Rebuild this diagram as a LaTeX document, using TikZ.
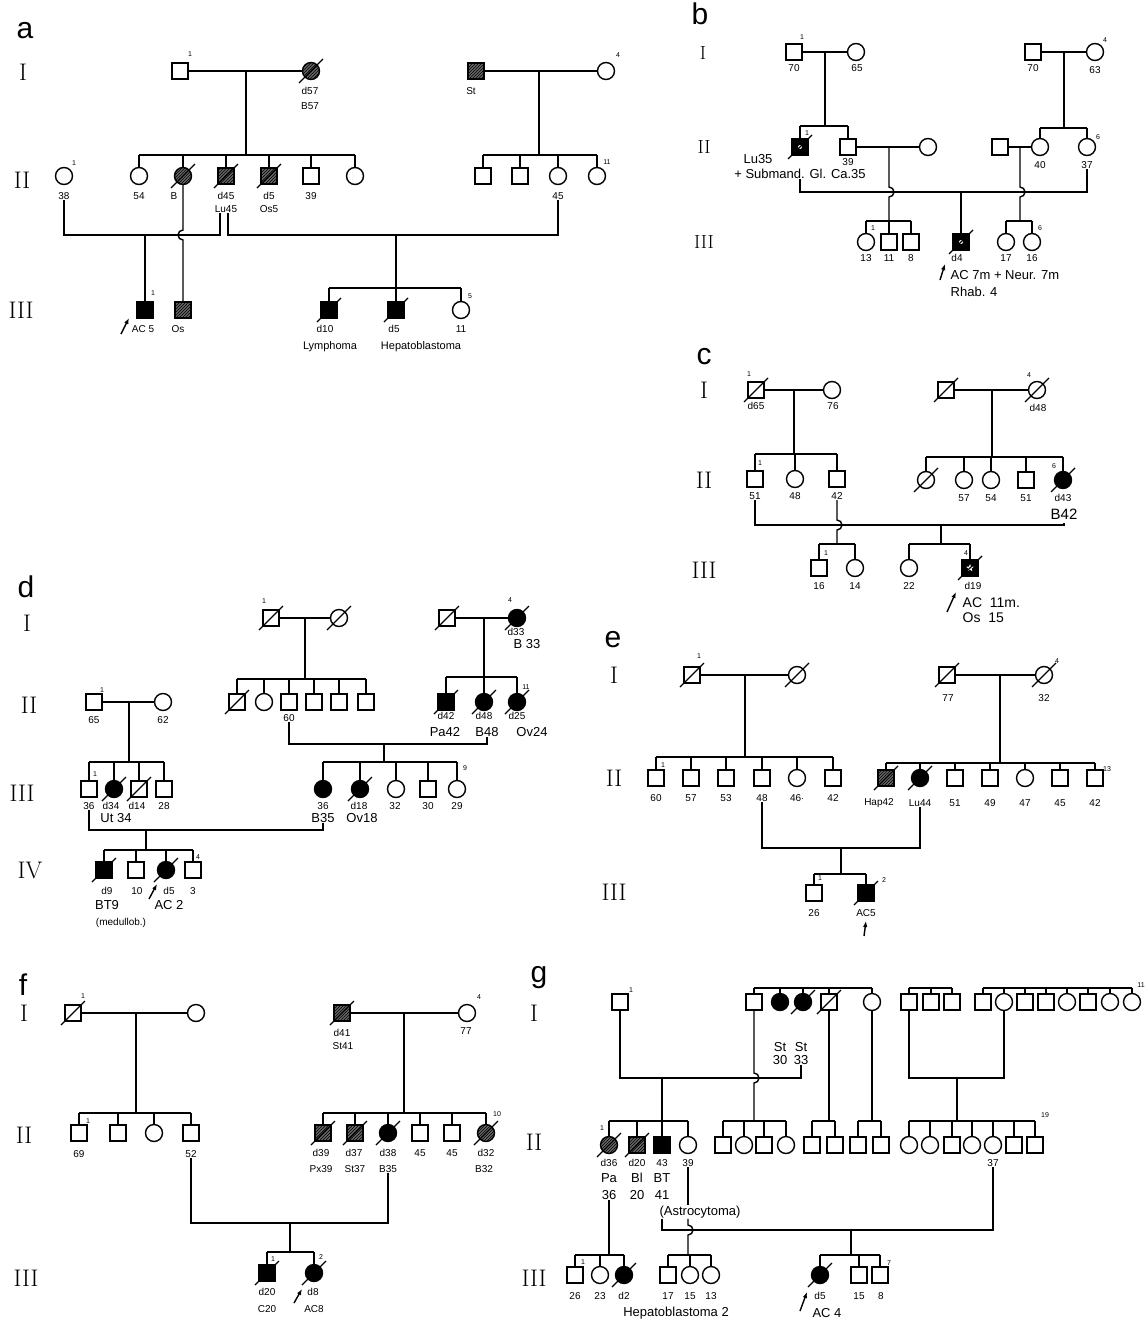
\documentclass[tikz,border=0pt]{standalone}
\usepackage{fontspec}
\setsansfont{Liberation Sans}
\usetikzlibrary{arrows.meta,patterns,shapes.geometric}

\tikzset{
  male/.style={draw, rectangle, minimum size=16pt, inner sep=0pt},
  female/.style={draw, circle, minimum size=17pt, inner sep=0pt},
  aff/.style={fill=black},
  hat/.style={preaction={fill=black!60}, pattern=north east lines, pattern color=black},
  lbl/.style={font=\sffamily\fontsize{10}{10}\selectfont, inner sep=0pt},
  big/.style={font=\sffamily\fontsize{13}{13}\selectfont, inner sep=0pt},
  sup/.style={font=\sffamily\fontsize{7}{7}\selectfont, inner sep=0pt},
  gen/.style={font=\fontsize{24}{24}\selectfont, inner sep=0pt},
  gensm/.style={font=\fontsize{19}{19}\selectfont, inner sep=0pt},
  panel/.style={font=\sffamily\fontsize{30}{30}\selectfont, inner sep=0pt},
  proband/.style={-{Latex[length=6pt,width=4.5pt]}, line width=1.4pt},
  dot/.style={circle, fill=white, inner sep=0pt, minimum size=4pt},
}

% sibship line: y, first, last, all children
\newcommand\sibline[4]{%
  \draw (#2.north |- 0,#1) -- (#3.north |- 0,#1);
  \foreach \ch in {#4}{\draw (\ch.north) -- (\ch.north |- 0,#1);}}
\newcommand\deadmark[1]{\draw[line width=1.1pt] ([shift={(-12,12)}]#1.center) -- ([shift={(12,-12)}]#1.center);}
\newcommand\plab[4][lbl]{\node[#1] (#2) at (#3) {#4};}
\newcommand\psup[3]{\node[sup] (#1) at (#2) {#3};}

\begin{document}
\begin{tikzpicture}[x=1pt, y=-1pt, line width=1.4pt]
\useasboundingbox (0,0) rectangle (1146,1328);

% ---------------- a ----------------
\node[panel] (pa) at (25,31) {a};
\node[gen] (aI) at (23,72) {I};
\node[gen] (aII) at (22,180) {II};
\node[gen] (aIII) at (21,310) {III};
\node[male] (a1) at (180,71) {};
\node[female,hat] (a2) at (311,71) {};
\node[male,hat] (a3) at (476,71) {};
\node[female] (a4) at (606,71) {};
\draw (a1) -- (a2);
\draw (a3) -- (a4);
\coordinate (am1) at (246,71);
\coordinate (am2) at (539,71);
\psup{a1n}{190,54}{1}
\psup{a4n}{618,55}{4}
\plab{ald57}{310,91}{d57}
\plab{alB57}{310,106}{B57}
\plab{alSt}{471,91}{St}
\node[female] (a5) at (64,176) {};
\node[female] (a6) at (139,176) {};
\node[female,hat] (a7) at (183,176) {};
\node[male,hat] (a8) at (226,176) {};
\node[male,hat] (a9) at (269,176) {};
\node[male] (a10) at (311,176) {};
\node[female] (a11) at (355,176) {};
\node[male] (a12) at (483,176) {};
\node[male] (a13) at (520,176) {};
\node[female] (a14) at (558,176) {};
\node[female] (a15) at (597,176) {};
\draw (am1) -- (am1 |- 0,155);
\draw (am2) -- (am2 |- 0,155);
\sibline{155}{a6}{a11}{a6,a7,a8,a9,a10,a11}
\sibline{155}{a12}{a15}{a12,a13,a14,a15}
\psup{a5n}{74,163}{1}
\psup{a15n}{607,162}{11}
\plab{al38}{64,196}{38}
\plab{al54}{139,196}{54}
\plab{alB}{174,196}{B}
\plab{ald45}{226,196}{d45}
\plab{ald5}{269,196}{d5}
\plab{al39}{311,196}{39}
\plab{al45}{558,196}{45}
\plab{alLu45}{226,209}{Lu45}
\plab{alOs5}{269,209}{Os5}
\node[male,aff] (a16) at (145,310) {};
\node[male,hat] (a17) at (183,310) {};
\node[male,aff] (a18) at (329,310) {};
\node[male,aff] (a19) at (396,310) {};
\node[female] (a20) at (461,310) {};
\coordinate (af1) at (220,235);
\coordinate (af2) at (228,235);
\draw (al38.south) |- (af1) -- (af1 |- alLu45.south);
\draw (af2 |- alLu45.south) -- (af2) -| (al45.south);
\coordinate (am3) at (145,235);
\coordinate (am4) at (396,235);
\draw (am3) -- (a16);
\draw (am4) -- (am4 |- 0,288);
\sibline{288}{a18}{a20}{a18,a19,a20}
\draw (a7) -- (183,230) arc[start angle=270, end angle=90, radius=5] -- (a17);
\foreach \n in {a2,a7,a8,a9,a18,a19} {\deadmark{\n}}
\psup{a16n}{153,293}{1}
\psup{a20n}{470,296}{5}
\draw[proband] (121,334) -- (129,318);
\plab{alAC5}{143,329}{AC 5}
\plab{alOs}{178,329}{Os}
\plab{ald10}{325,329}{d10}
\plab{ald5b}{394,329}{d5}
\plab{al11}{461,329}{11}
\plab[font=\sffamily\fontsize{11}{11}\selectfont]{alLym}{330,347}{Lymphoma}
\plab[font=\sffamily\fontsize{11}{11}\selectfont]{alHep}{421,347}{Hepatoblastoma}

% ---------------- b ----------------
\node[panel] (pb) at (700,14) {b};
\node[gensm] (bI) at (703,53) {I};
\node[gensm] (bII) at (704,147) {II};
\node[gensm] (bIII) at (704,242) {III};
\node[male] (b1) at (794,52) {};
\node[female] (b2) at (856,52) {};
\node[male] (b3) at (1033,52) {};
\node[female] (b4) at (1095,52) {};
\draw (b1) -- (b2);
\draw (b3) -- (b4);
\coordinate (bm1) at (825,52);
\coordinate (bm2) at (1064,52);
\psup{b1n}{802,37}{1}
\psup{b4n}{1105,40}{4}
\plab{bl70a}{794,68}{70}
\plab{bl65}{857,68}{65}
\plab{bl70b}{1033,68}{70}
\plab{bl63}{1095,70}{63}
\node[male,aff] (b5) at (800,147) {};
\node[male] (b6) at (848,147) {};
\node[female] (b7) at (928,147) {};
\node[male] (b8) at (1000,147) {};
\node[female] (b9) at (1040,147) {};
\node[female] (b10) at (1087,147) {};
\draw (b6) -- (b7);
\draw (b8) -- (b9);
\coordinate (bm3) at (889,147);
\coordinate (bm4) at (1020,147);
\draw (bm1) -- (bm1 |- 0,126);
\sibline{126}{b5}{b6}{b5,b6}
\draw (bm2) -- (bm2 |- 0,128);
\sibline{128}{b9}{b10}{b9,b10}
\node[dot] (b5d) at (b5) {};
\psup{b5n}{807,133}{1}
\psup{b10n}{1098,137}{6}
\plab[big]{blLu35}{758,159}{Lu35}
\plab[big]{blSub}{800,174}{+ Submand. Gl. Ca.35}
\plab{bl39}{848,162}{39}
\plab{bl40}{1040,165}{40}
\plab{bl37}{1087,165}{37}
\draw (blSub.south -| b5) |- (bl37.south |- 0,192) -- (bl37.south);
\coordinate (bm5) at (961,192);
\draw (bm3) -- (889,187) arc[start angle=-90, end angle=90, radius=5] -- (889,221);
\draw (bm4) -- (1020,187) arc[start angle=-90, end angle=90, radius=5] -- (1020,221);
\node[female] (b11) at (866,242) {};
\node[male] (b12) at (889,242) {};
\node[male] (b13) at (911,242) {};
\node[male,aff] (b14) at (961,242) {};
\node[female] (b15) at (1006,242) {};
\node[female] (b16) at (1032,242) {};
\sibline{221}{b11}{b13}{b11,b12,b13}
\sibline{221}{b15}{b16}{b15,b16}
\draw (bm5) -- (b14);
\node[dot] (b14d) at (b14) {};
\foreach \n in {b5,b14} {\deadmark{\n}}
\psup{b11n}{873,228}{1}
\psup{b16n}{1040,228}{6}
\plab{bl13}{866,258}{13}
\plab{bl11}{889,258}{11}
\plab{bl8}{911,258}{8}
\plab{bld4}{957,258}{d4}
\plab{bl17}{1006,258}{17}
\plab{bl16}{1032,258}{16}
\draw[proband] (940,280) -- (945,264);
\node[big, anchor=west] (blAC) at (950,275) {AC 7m + Neur. 7m};
\node[big, anchor=west] (blRh) at (950,292) {Rhab. 4};

% ---------------- c ----------------
\node[panel] (pc) at (704,357) {c};
\node[gen] (cI) at (704,390) {I};
\node[gen] (cII) at (704,480) {II};
\node[gen] (cIII) at (704,570) {III};
\node[male] (c1) at (756,390) {};
\node[female] (c2) at (832,390) {};
\node[male] (c3) at (946,390) {};
\node[female] (c4) at (1037,390) {};
\draw (c1) -- (c2);
\draw (c3) -- (c4);
\coordinate (cm1) at (794,390);
\coordinate (cm2) at (992,390);
\psup{c1n}{749,374}{1}
\psup{c4n}{1029,375}{4}
\plab{cld65}{756,406}{d65}
\plab{cl76}{833,406}{76}
\plab{cld48}{1038,408}{d48}
\node[male] (c5) at (755,479) {};
\node[female] (c6) at (795,479) {};
\node[male] (c7) at (837,479) {};
\node[female] (c8) at (926,480) {};
\node[female] (c9) at (964,480) {};
\node[female] (c10) at (991,480) {};
\node[male] (c11) at (1026,480) {};
\node[female,aff] (c12) at (1063,480) {};
\draw (cm1) -- (cm1 |- 0,454);
\sibline{454}{c5}{c7}{c5,c6,c7}
\draw (cm2) -- (cm2 |- 0,457);
\sibline{457}{c8}{c12}{c8,c9,c10,c11,c12}
\psup{c5n}{760,463}{1}
\psup{c12n}{1054,466}{6}
\plab{cl51}{755,496}{51}
\plab{cl48}{795,496}{48}
\plab{cl42}{837,496}{42}
\plab{cl57}{964,498}{57}
\plab{cl54}{991,498}{54}
\plab{cl51b}{1026,498}{51}
\plab{cld43}{1063,498}{d43}
\plab[font=\sffamily\fontsize{15}{15}\selectfont]{clB42}{1064,514}{B42}
\draw (cl51.south) |- (clB42.south |- 0,525) -- (clB42.south);
\coordinate (cm3) at (941,525);
\draw (cl42.south) -- (837,520) arc[start angle=-90, end angle=90, radius=5] -- (837,544);
\node[male] (c13) at (819,568) {};
\node[female] (c14) at (855,568) {};
\node[female] (c15) at (909,568) {};
\node[male,aff] (c16) at (970,568) {};
\sibline{544}{c13}{c14}{c13,c14}
\draw (cm3) -- (cm3 |- 0,544);
\sibline{544}{c15}{c16}{c15,c16}
\node[star, star points=5, star point ratio=2.3, fill=white, inner sep=0pt, minimum size=8pt] (c16s) at (c16) {};
\foreach \n in {c1,c3,c4,c8,c12,c16} {\deadmark{\n}}
\psup{c13n}{826,553}{1}
\psup{c16n}{966,553}{4}
\plab{cl16}{819,586}{16}
\plab{cl14}{855,586}{14}
\plab{cl22}{909,586}{22}
\plab{cld19}{973,586}{d19}
\draw[proband] (947,612) -- (956,592);
\node[font=\sffamily\fontsize{14}{14}\selectfont, inner sep=0pt, anchor=west] (clAC) at (962,603) {AC\ \ 11m.};
\node[font=\sffamily\fontsize{14}{14}\selectfont, inner sep=0pt, anchor=west] (clOs) at (962,618) {Os\ \ 15};

% ---------------- d ----------------
\node[panel] (pd) at (26,587) {d};
\node[gen] (dI) at (27,623) {I};
\node[gen] (dII) at (29,705) {II};
\node[gen] (dIII) at (22,793) {III};
\node[gen] (dIV) at (30,870) {IV};
\node[male] (d1) at (271,618) {};
\node[female] (d2) at (339,618) {};
\node[male] (d3) at (447,618) {};
\node[female,aff] (d4) at (517,618) {};
\draw (d1) -- (d2);
\draw (d3) -- (d4);
\coordinate (dm1) at (305,618);
\coordinate (dm2) at (484,618);
\psup{d1n}{264,601}{1}
\psup{d4n}{510,600}{4}
\plab{dld33}{516,632}{d33}
\plab[big]{dlB33}{527,644}{B 33}
\node[male] (d5) at (237,702) {};
\node[female] (d6) at (264,702) {};
\node[male] (d7) at (289,702) {};
\node[male] (d8) at (314,702) {};
\node[male] (d9) at (339,702) {};
\node[male] (d10) at (366,702) {};
\node[male,aff] (d11) at (446,702) {};
\node[female,aff] (d12) at (484,702) {};
\node[female,aff] (d13) at (517,702) {};
\node[male] (d14) at (94,702) {};
\node[female] (d15) at (163,702) {};
\draw (dm1) -- (dm1 |- 0,679);
\sibline{679}{d5}{d10}{d5,d6,d7,d8,d9,d10}
\draw (dm2) -- (dm2 |- 0,677);
\sibline{677}{d11}{d13}{d11,d12,d13}
\draw (d14) -- (d15);
\coordinate (dm3) at (129,702);
\psup{d14n}{102,690}{1}
\psup{d13n}{526,687}{11}
\plab{dl65}{94,720}{65}
\plab{dl62}{163,720}{62}
\plab{dl60}{289,718}{60}
\plab{dld42}{446,716}{d42}
\plab{dld48}{484,716}{d48}
\plab{dld25}{517,716}{d25}
\plab[big]{dlPa42}{445,732}{Pa42}
\plab[big]{dlB48}{487,732}{B48}
\plab[big]{dlOv24}{532,732}{Ov24}
\draw (dm3) -- (dm3 |- 0,762);
\node[male] (d16) at (89,789) {};
\node[female,aff] (d17) at (114,789) {};
\node[male] (d18) at (139,789) {};
\node[male] (d19) at (164,789) {};
\sibline{762}{d16}{d19}{d16,d17,d18,d19}
\draw (dl60.south) |- (dlB48.south |- 0,744) -- (dlB48.south);
\coordinate (dm4) at (384,744);
\draw (dm4) -- (dm4 |- 0,762);
\node[female,aff] (d20) at (323,789) {};
\node[female,aff] (d21) at (360,789) {};
\node[female] (d22) at (396,789) {};
\node[male] (d23) at (428,789) {};
\node[female] (d24) at (457,789) {};
\sibline{762}{d20}{d24}{d20,d21,d22,d23,d24}
\psup{d16n}{95,774}{1}
\psup{d24n}{465,768}{9}
\plab{dl36a}{89,806}{36}
\plab{dld34}{111,806}{d34}
\plab{dld14}{137,806}{d14}
\plab{dl28}{164,806}{28}
\plab{dl36b}{323,806}{36}
\plab{dld18}{359,806}{d18}
\plab{dl32}{395,806}{32}
\plab{dl30}{428,806}{30}
\plab{dl29}{457,806}{29}
\plab[big]{dlUt34}{116,818}{Ut 34}
\plab[big]{dlB35}{323,818}{B35}
\plab[big]{dlOv18}{362,818}{Ov18}
\draw (dl36a.south) |- (dlB35.south |- 0,830) -- (dlB35.south);
\coordinate (dm5) at (146,830);
\draw (dm5) -- (dm5 |- 0,850);
\node[male,aff] (d25) at (104,870) {};
\node[male] (d26) at (136,870) {};
\node[female,aff] (d27) at (166,870) {};
\node[male] (d28) at (193,870) {};
\sibline{850}{d25}{d28}{d25,d26,d27,d28}
\foreach \n in {d1,d2,d3,d4,d5,d11,d12,d13,d17,d18,d21,d25,d27} {\deadmark{\n}}
\psup{d28n}{198,857}{4}
\plab{dld9}{107,891}{d9}
\plab{dl10}{137,891}{10}
\plab{dld5}{169,891}{d5}
\plab{dl3}{193,891}{3}
\plab[big]{dlBT9}{107,905}{BT9}
\plab[big]{dlAC2}{169,905}{AC 2}
\plab{dlmed}{121,923}{(medullob.)}
\draw[proband] (149,899) -- (157,884);

% ---------------- e ----------------
\node[panel] (pe) at (613,640) {e};
\node[gen] (eI) at (614,675) {I};
\node[gen] (eII) at (614,778) {II};
\node[gen] (eIII) at (614,892) {III};
\node[male] (e1) at (692,675) {};
\node[female] (e2) at (797,675) {};
\node[male] (e3) at (947,675) {};
\node[female] (e4) at (1044,675) {};
\draw (e1) -- (e2);
\draw (e3) -- (e4);
\coordinate (em1) at (745,675);
\coordinate (em2) at (1000,675);
\psup{e1n}{699,656}{1}
\psup{e4n}{1057,661}{4}
\plab{el77}{948,698}{77}
\plab{el32}{1044,698}{32}
\node[male] (e5) at (656,778) {};
\node[male] (e6) at (691,778) {};
\node[male] (e7) at (726,778) {};
\node[male] (e8) at (762,778) {};
\node[female] (e9) at (797,778) {};
\node[male] (e10) at (833,778) {};
\node[male,hat] (e11) at (886,778) {};
\node[female,aff] (e12) at (920,778) {};
\node[male] (e13) at (955,778) {};
\node[male] (e14) at (990,778) {};
\node[female] (e15) at (1025,778) {};
\node[male] (e16) at (1060,778) {};
\node[male] (e17) at (1095,778) {};
\draw (em1) -- (em1 |- 0,757);
\sibline{757}{e5}{e10}{e5,e6,e7,e8,e9,e10}
\draw (em2) -- (em2 |- 0,763);
\sibline{763}{e11}{e17}{e11,e12,e13,e14,e15,e16,e17}
\psup{e5n}{663,765}{1}
\psup{e17n}{1107,769}{13}
\plab{el60}{656,798}{60}
\plab{el57}{691,798}{57}
\plab{el53}{726,798}{53}
\plab{el48}{762,798}{48}
\plab{el46}{797,798}{46$\cdot$}
\plab{el42}{833,798}{42}
\plab{elHap42}{879,803}{Hap42}
\plab{elLu44}{920,803}{Lu44}
\plab{el51}{955,803}{51}
\plab{el49}{990,803}{49}
\plab{el47}{1025,803}{47}
\plab{el45}{1060,803}{45}
\plab{el42b}{1095,803}{42}
\draw (el48.south) |- (elLu44.south |- 0,848) -- (elLu44.south);
\coordinate (em3) at (841,848);
\draw (em3) -- (em3 |- 0,874);
\node[male] (e18) at (814,893) {};
\node[male,aff] (e19) at (866,893) {};
\sibline{874}{e18}{e19}{e18,e19}
\foreach \n in {e1,e2,e3,e4,e11,e12,e19} {\deadmark{\n}}
\psup{e18n}{820,878}{1}
\psup{e19n}{884,880}{2}
\plab{el26}{814,913}{26}
\plab{elAC5}{866,913}{AC5}
\draw[proband] (864,936) -- (866,921);

% ---------------- f ----------------
\node[panel] (pf) at (23,985) {f};
\node[gen] (fI) at (24,1013) {I};
\node[gen] (fII) at (24,1135) {II};
\node[gen] (fIII) at (26,1278) {III};
\node[male] (f1) at (73,1013) {};
\node[female] (f2) at (196,1013) {};
\node[male,hat] (f3) at (342,1013) {};
\node[female] (f4) at (467,1013) {};
\draw (f1) -- (f2);
\draw (f3) -- (f4);
\coordinate (fm1) at (136,1013);
\coordinate (fm2) at (404,1013);
\psup{f1n}{83,996}{1}
\psup{f4n}{479,997}{4}
\plab{fld41}{342,1033}{d41}
\plab{flSt41}{343,1046}{St41}
\plab{fl77}{466,1031}{77}
\node[male] (f5) at (79,1133) {};
\node[male] (f6) at (118,1133) {};
\node[female] (f7) at (154,1133) {};
\node[male] (f8) at (191,1133) {};
\node[male,hat] (f9) at (323,1133) {};
\node[male,hat] (f10) at (355,1133) {};
\node[female,aff] (f11) at (388,1133) {};
\node[male] (f12) at (420,1133) {};
\node[male] (f13) at (452,1133) {};
\node[female,hat] (f14) at (486,1133) {};
\draw (fm1) -- (fm1 |- 0,1113);
\sibline{1113}{f5}{f8}{f5,f6,f7,f8}
\draw (fm2) -- (fm2 |- 0,1113);
\sibline{1113}{f9}{f14}{f9,f10,f11,f12,f13,f14}
\psup{f5n}{88,1121}{1}
\psup{f14n}{497,1114}{10}
\plab{fl69}{79,1154}{69}
\plab{fl52}{191,1154}{52}
\plab{fld39}{321,1153}{d39}
\plab{fld37}{354,1153}{d37}
\plab{fld38}{388,1153}{d38}
\plab{fl45a}{420,1153}{45}
\plab{fl45b}{452,1153}{45}
\plab{fld32}{486,1153}{d32}
\plab{flPx39}{321,1169}{Px39}
\plab{flSt37}{355,1169}{St37}
\plab{flB35}{388,1169}{B35}
\plab{flB32}{484,1169}{B32}
\draw (fl52.south) |- (flB35.south |- 0,1223) -- (flB35.south);
\coordinate (fm3) at (290,1223);
\draw (fm3) -- (fm3 |- 0,1252);
\node[male,aff] (f15) at (267,1273) {};
\node[female,aff] (f16) at (314,1273) {};
\sibline{1252}{f15}{f16}{f15,f16}
\foreach \n in {f1,f3,f9,f10,f11,f14,f15,f16} {\deadmark{\n}}
\psup{f15n}{273,1259}{1}
\psup{f16n}{321,1257}{2}
\plab{fld20}{267,1292}{d20}
\plab{fld8}{313,1292}{d8}
\plab{flC20}{267,1309}{C20}
\plab{flAC8}{314,1309}{AC8}
\draw[proband] (294,1303) -- (302,1289);

% ---------------- g ----------------
\node[panel] (pg) at (539,978) {g};
\node[gen] (gI) at (534,1013) {I};
\node[gen] (gII) at (534,1142) {II};
\node[gen] (gIII) at (534,1278) {III};
\node[male] (g1) at (620,1002) {};
\node[male] (g2) at (754,1002) {};
\node[female,aff] (g3) at (780,1002) {};
\node[female,aff] (g4) at (803,1002) {};
\node[male] (g5) at (829,1002) {};
\node[female] (g6) at (872,1002) {};
\node[male] (g7) at (909,1002) {};
\node[male] (g8) at (931,1002) {};
\node[male] (g9) at (952,1002) {};
\node[male] (g10) at (983,1002) {};
\node[female] (g11) at (1004,1002) {};
\node[male] (g12) at (1025,1002) {};
\node[male] (g13) at (1046,1002) {};
\node[female] (g14) at (1067,1002) {};
\node[male] (g15) at (1088,1002) {};
\node[female] (g16) at (1110,1002) {};
\node[female] (g17) at (1132,1002) {};
\sibline{988}{g2}{g6}{g2,g3,g4,g5,g6}
\sibline{988}{g7}{g9}{g7,g8,g9}
\sibline{988}{g10}{g17}{g10,g11,g12,g13,g14,g15,g16,g17}
\psup{g1n}{631,990}{1}
\psup{g17n}{1141,985}{11}
\plab[big]{glSt1}{780,1047}{St}
\plab[big]{glSt2}{801,1047}{St}
\plab[big]{gl30}{780,1060}{30}
\plab[big]{gl33}{801,1060}{33}
\draw (g1.south) |- (gl33.south |- 0,1078) -- (gl33.south);
\coordinate (gm1) at (662,1078);
\draw (gm1) -- (gm1 |- 0,1121);
\draw (g7.south) |- (g11.south |- 0,1078) -- (g11.south);
\coordinate (gm2) at (957,1078);
\draw (gm2) -- (gm2 |- 0,1121);
\draw (g2) -- (754,1073) arc[start angle=-90, end angle=90, radius=5] -- (754,1121);
\draw (g5) -- (g5 |- 0,1121);
\draw (g6) -- (g6 |- 0,1121);
\node[female,hat] (g18) at (609,1145) {};
\node[male,hat] (g19) at (637,1145) {};
\node[male,aff] (g20) at (662,1145) {};
\node[female] (g21) at (688,1145) {};
\node[male] (g22) at (723,1145) {};
\node[female] (g23) at (744,1145) {};
\node[male] (g24) at (764,1145) {};
\node[female] (g25) at (786,1145) {};
\node[male] (g26) at (812,1145) {};
\node[male] (g27) at (835,1145) {};
\node[male] (g28) at (858,1145) {};
\node[male] (g29) at (881,1145) {};
\node[female] (g30) at (909,1145) {};
\node[female] (g31) at (930,1145) {};
\node[male] (g32) at (952,1145) {};
\node[female] (g33) at (972,1145) {};
\node[female] (g34) at (993,1145) {};
\node[male] (g35) at (1014,1145) {};
\node[male] (g36) at (1035,1145) {};
\sibline{1121}{g18}{g21}{g18,g19,g20,g21}
\sibline{1121}{g22}{g25}{g22,g23,g24,g25}
\sibline{1121}{g26}{g27}{g26,g27}
\sibline{1121}{g28}{g29}{g28,g29}
\sibline{1121}{g30}{g36}{g30,g31,g32,g33,g34,g35,g36}
\psup{g18n}{602,1128}{1}
\psup{g36n}{1045,1115}{19}
\plab{gld36}{609,1163}{d36}
\plab{gld20}{637,1163}{d20}
\plab{gl43}{662,1163}{43}
\plab{gl39}{688,1163}{39}
\plab{gl37}{993,1163}{37}
\plab[big]{glPa}{609,1178}{Pa}
\plab[big]{glBl}{637,1178}{Bl}
\plab[big]{glBT}{662,1178}{BT}
\plab[big]{gl36}{609,1195}{36}
\plab[big]{gl20}{637,1195}{20}
\plab[big]{gl41}{662,1195}{41}
\plab[big]{glAst}{700,1212}{(Astrocytoma)}
\draw (glAst.south -| g20) |- (gl37.south |- 0,1230) -- (gl37.south);
\draw (gl39.south) -- (gl39.south |- glAst.north);
\draw (glAst.south -| gl39) -- (688,1225) arc[start angle=-90, end angle=90, radius=5] -- (688,1255);
\coordinate (gm3) at (851,1230);
\draw (gm3) -- (gm3 |- 0,1255);
\draw (gl36.south) -- (gl36.south |- 0,1255);
\node[male] (g37) at (575,1275) {};
\node[female] (g38) at (600,1275) {};
\node[female,aff] (g39) at (624,1275) {};
\node[male] (g40) at (668,1275) {};
\node[female] (g41) at (690,1275) {};
\node[female] (g42) at (711,1275) {};
\node[female,aff] (g43) at (820,1275) {};
\node[male] (g44) at (859,1275) {};
\node[male] (g45) at (880,1275) {};
\sibline{1255}{g37}{g39}{g37,g38,g39}
\sibline{1255}{g40}{g42}{g40,g41,g42}
\sibline{1255}{g43}{g45}{g43,g44,g45}
\foreach \n in {g4,g5,g18,g19,g39,g43} {\deadmark{\n}}
\psup{g37n}{583,1262}{1}
\psup{g45n}{889,1263}{7}
\plab{gl26}{575,1296}{26}
\plab{gl23}{600,1296}{23}
\plab{gld2}{624,1296}{d2}
\plab{gl17}{668,1296}{17}
\plab{gl15a}{690,1296}{15}
\plab{gl13}{711,1296}{13}
\plab{gld5}{820,1296}{d5}
\plab{gl15b}{859,1296}{15}
\plab{gl8}{881,1296}{8}
\plab[big]{glHep}{676,1313}{Hepatoblastoma 2}
\plab[big]{glAC4}{827,1313}{AC 4}
\draw[proband] (800,1311) -- (807,1292);
\end{tikzpicture}
\end{document}
